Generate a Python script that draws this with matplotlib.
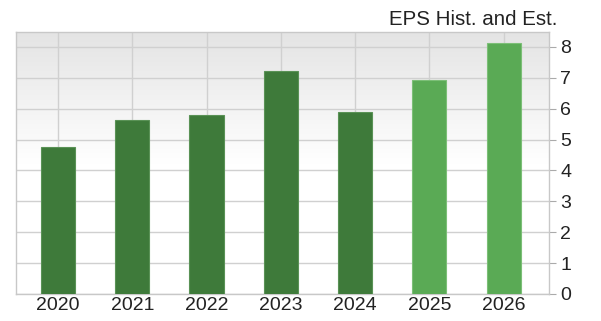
import matplotlib
matplotlib.use("Agg")
import matplotlib.pyplot as plt
import numpy as np

years = ['2020', '2021', '2022', '2023', '2024', '2025', '2026']
eps = [4.75, 5.64, 5.80, 7.21, 5.90, 6.93, 8.13]
estimate = [False, False, False, False, False, True, True]

plt.rcParams['font.family'] = ['Liberation Sans', 'DejaVu Sans']

fig = plt.figure(figsize=(6.01, 3.21), dpi=100)
ax = fig.add_axes([16/601, 27/321, 533/601, 262/321])

x = np.arange(len(years))
colors = ['#5aaa55' if e else '#3e7a3a' for e in estimate]
edges = ['#7cbf77' if e else '#5a9256' for e in estimate]
ax.bar(x, eps, width=0.46, color=colors, edgecolor=edges, linewidth=0.8, zorder=3)

# gray-to-white gradient background
grad = np.linspace(1, 0, 256).reshape(-1, 1)
bg = matplotlib.colors.LinearSegmentedColormap.from_list('bg', ['#ffffff', '#ffffff', '#e4e4e4'])
ax.imshow(grad, aspect='auto', cmap=bg, extent=[-0.565, 6.61, 0, 8.48], origin='upper', zorder=0)
ax.set_xlim(-0.565, 6.61)
ax.set_ylim(0, 8.48)

ax.set_xticks(x)
ax.set_xticklabels(years)
ax.set_yticks(range(0, 9))
ax.yaxis.tick_right()
ax.tick_params(axis='y', length=5, width=0.8, color='#aaaaaa', pad=3, labelsize=14, labelcolor='#222222')
ax.tick_params(axis='x', length=0, pad=2, labelsize=14, labelcolor='#222222')
ax.grid(True, color='#d0d0d0', linewidth=1, zorder=1)
ax.set_axisbelow(True)
for s in ax.spines.values():
    s.set_color('#c8c8c8')
    s.set_linewidth(1)

fig.text(557/601, 1 - 25/321, 'EPS Hist. and Est.', ha='right', va='baseline', fontsize=14.8, color='#222222')

fig.savefig('out.png', dpi=100)
